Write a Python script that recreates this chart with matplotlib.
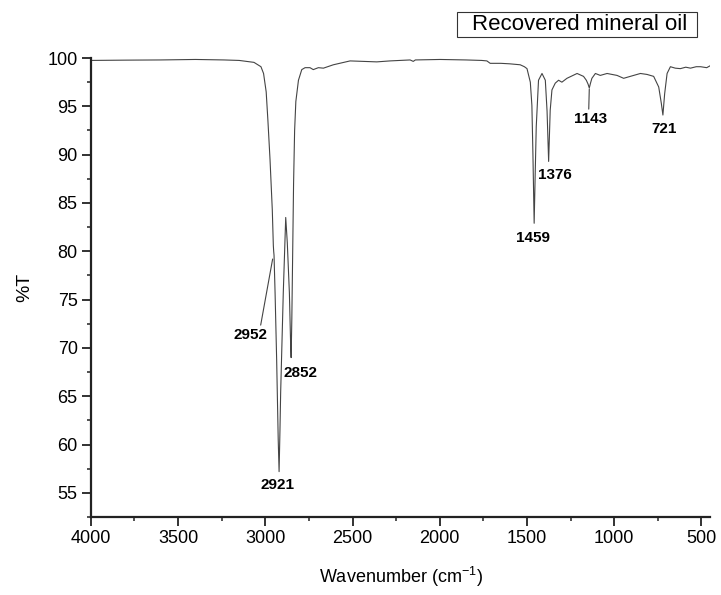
import matplotlib
matplotlib.use('Agg')
import matplotlib.pyplot as plt
from matplotlib.ticker import MultipleLocator
from matplotlib.patches import Rectangle

plt.rcParams['font.family'] = ['Liberation Sans', 'DejaVu Sans']
plt.rcParams['mathtext.default'] = 'regular'

# FTIR spectrum (wavenumber in cm-1, %T)
wavenumber = [4000, 3800, 3600, 3400, 3237, 3150, 3065, 3025, 3010, 2995,
              2985, 2973, 2960, 2954, 2952, 2950, 2944, 2935, 2926, 2921,
              2916, 2912, 2897, 2883, 2874, 2862, 2855, 2852, 2848, 2843,
              2838, 2832, 2825, 2810, 2791, 2772, 2744, 2725, 2696, 2667,
              2610, 2514, 2361, 2285, 2170, 2152, 2140, 1998, 1850, 1760,
              1730, 1711, 1650, 1600, 1539, 1515, 1500, 1481, 1472, 1466,
              1459, 1453, 1447, 1434, 1414, 1395, 1385, 1376, 1367, 1357,
              1338, 1319, 1300, 1271, 1213, 1176, 1160, 1150, 1143, 1136, 1128, 1108,
              1080, 1041, 984, 946, 908, 850, 812, 774, 745, 730,
              721, 711, 697, 678, 650, 621, 590, 563, 530, 505, 470, 450]
transmittance = [99.75, 99.78, 99.8, 99.85, 99.8, 99.75, 99.55, 99.1, 98.4, 96.5,
                 93.5, 89.5, 84.3, 80.6, 80.0, 79.6, 75.7, 68.8, 60.5, 57.2,
                 61.5, 65.4, 75.7, 83.5, 80.9, 75.7, 70.5, 69.0, 73.0, 80.0,
                 87.0, 92.5, 95.5, 97.7, 98.8, 99.0, 99.0, 98.8, 99.0, 98.95,
                 99.3, 99.7, 99.6, 99.7, 99.8, 99.65, 99.8, 99.85, 99.8, 99.75,
                 99.7, 99.45, 99.45, 99.4, 99.3, 99.1, 98.9, 97.5, 95.1, 90.0,
                 82.9, 88.0, 92.9, 97.7, 98.4, 97.7, 94.5, 89.3, 94.6, 96.7,
                 97.4, 97.7, 97.5, 97.9, 98.4, 98.1, 97.7, 97.3, 96.9, 97.4, 97.9, 98.4,
                 98.2, 98.4, 98.2, 97.9, 98.1, 98.4, 98.3, 98.1, 97.0, 95.3,
                 94.1, 96.3, 98.4, 99.1, 98.95, 98.9, 99.05, 98.95, 99.1, 99.1, 99.0, 99.2]

# peak labels: text, text position (wn, %T), pointer end or None
peak_labels = ['2952', '2921', '2852', '1459', '1376', '1143', '721']
label_pos = [(3084, 71.35), (2931, 55.85), (2797, 67.4), (1464, 81.4),
             (1338, 87.9), (1137, 93.7), (717, 92.7)]
pointer_to = [(2958, 79.2), None, None, None, None, (1143, 96.8), None]
pointer_rel = [(0.78, 1.0), None, None, None, None, (0.45, 1.0), None]

fig = plt.figure(figsize=(7.21, 5.95), dpi=100)
ax = fig.add_axes([0.126, 0.131, 0.859, 0.7715])

ax.plot(wavenumber, transmittance, color='#444444', lw=0.8)

for txt, pos, ptr, rel in zip(peak_labels, label_pos, pointer_to, pointer_rel):
    if ptr is None:
        ax.text(pos[0], pos[1], txt, ha='center', va='center',
                fontsize=11, fontweight='bold')
    else:
        ax.annotate(txt, xy=ptr, xytext=pos, ha='center', va='center',
                    fontsize=11, fontweight='bold',
                    arrowprops=dict(arrowstyle='-', lw=0.8, color='#444444',
                                    shrinkA=0, shrinkB=0, relpos=rel))

ax.set_xlim(4000, 450)
ax.set_ylim(52.5, 100)
ax.xaxis.set_major_locator(MultipleLocator(500))
ax.xaxis.set_minor_locator(MultipleLocator(250))
ax.yaxis.set_minor_locator(MultipleLocator(2.5))
ax.set_yticks([55, 60, 65, 70, 75, 80, 85, 90, 95, 100])

for s in ['top', 'right']:
    ax.spines[s].set_visible(False)
for s in ['left', 'bottom']:
    ax.spines[s].set_linewidth(1.6)
    ax.spines[s].set_color('#222222')

ax.tick_params(which='major', direction='out', length=6.5, width=1.3,
               labelsize=13, pad=3, color='#222222')
ax.tick_params(which='minor', direction='out', length=3.2, width=1.1,
               color='#222222')

ax.set_xlabel('Wavenumber (cm$^{-1}$)', fontsize=13, labelpad=13)
ax.set_ylabel('%T', fontsize=14, labelpad=10)

# legend-like title box
fig.patches.append(Rectangle((0.634, 0.9378), 0.333, 0.042, transform=fig.transFigure,
                             fc='white', ec='#333333', lw=0.8))
fig.text(0.8044, 0.9588, 'Recovered mineral oil', ha='center', va='center',
         fontsize=16)

fig.savefig('out.png', dpi=100)
